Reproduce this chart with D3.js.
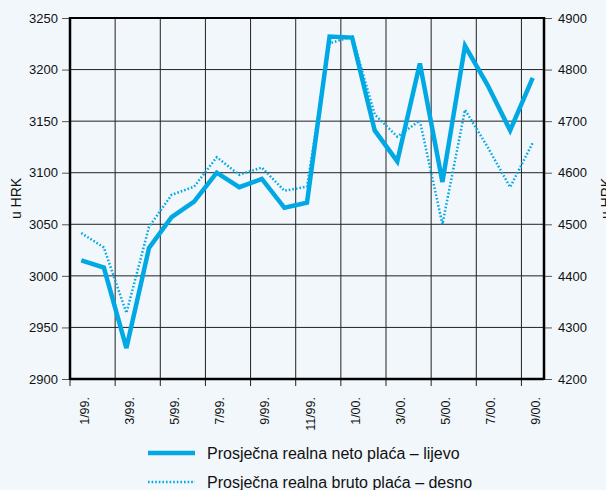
<!DOCTYPE html>
<html lang="hr">
<head>
<meta charset="UTF-8">
<title>Prosječna realna plaća</title>
<script src="https://d3js.org/d3.v7.min.js"></script>
<style>
  body { margin: 0; background: #f2f7fb; }
  svg { display: block; font-family: "Liberation Sans", Arial, sans-serif; }
</style>
</head>
<body>
<div id="chart"></div>
<script>
// months 1/99 .. 9/00
var months = ["1/99.", "2/99.", "3/99.", "4/99.", "5/99.", "6/99.", "7/99.", "8/99.", "9/99.", "10/99.", "11/99.", "12/99.",
              "1/00.", "2/00.", "3/00.", "4/00.", "5/00.", "6/00.", "7/00.", "8/00.", "9/00."];
// neto (left axis)
var neto = [3015, 3008, 2930, 3027, 3057, 3072, 3100, 3086, 3094, 3066, 3071, 3232,
            3231, 3141, 3111, 3206, 3091, 3223, 3185, 3141, 3192];
// bruto (right axis)
var bruto = [4483, 4455, 4328, 4495, 4557, 4573, 4630, 4596, 4610, 4565, 4573, 4851,
             4864, 4713, 4670, 4701, 4500, 4722, 4650, 4572, 4658];
var leftTicks = [2900, 2950, 3000, 3050, 3100, 3150, 3200, 3250];
var rightTicks = [4200, 4300, 4400, 4500, 4600, 4700, 4800, 4900];
var legendLabels = ["Prosječna realna neto plaća – lijevo", "Prosječna realna bruto plaća – desno"];

var W = 606, H = 490;
var margin = {top: 18, right: 62, bottom: 111, left: 70},
    width = W - margin.left - margin.right,
    height = H - margin.top - margin.bottom;
var blue = "#00a8e4";

var svg = d3.select("#chart").append("svg")
    .attr("width", W).attr("height", H);
var g = svg.append("g")
    .attr("transform", "translate(" + margin.left + "," + margin.top + ")");

var x = d3.scaleBand().domain(months).range([0, width]).padding(0);
var yL = d3.scaleLinear().domain([2900, 3250]).range([height, 0]);
var yR = d3.scaleLinear().domain([4200, 4900]).range([height, 0]);

// gridlines
var vLines = months.filter(function(d, i) { return i % 2 == 0 && i > 0; });
g.selectAll(".vgrid").data(vLines).enter().append("line")
    .attr("x1", function(d) { return x(d); }).attr("x2", function(d) { return x(d); })
    .attr("y1", 0).attr("y2", height + 7)
    .attr("stroke", "#222").attr("stroke-width", 1);
g.append("line").attr("x1", 0).attr("x2", 0).attr("y1", height).attr("y2", height + 7)
    .attr("stroke", "#222");
g.selectAll(".hgrid").data(leftTicks).enter().append("line")
    .attr("x1", 0).attr("x2", width)
    .attr("y1", function(d) { return yL(d); }).attr("y2", function(d) { return yL(d); })
    .attr("stroke", "#222").attr("stroke-width", 1);

// axes
var axL = g.append("g").call(d3.axisLeft(yL).tickValues(leftTicks).tickFormat(d3.format("d")).tickSize(8).tickPadding(4));
var axR = g.append("g").attr("transform", "translate(" + width + ",0)")
    .call(d3.axisRight(yR).tickValues(rightTicks).tickFormat(d3.format("d")).tickSize(8).tickPadding(6));
[axL, axR].forEach(function(a) {
  a.select(".domain").remove();
  a.selectAll(".tick line").attr("stroke", "#555");
  a.selectAll("text").attr("font-size", 13).attr("fill", "#111")
    .attr("font-family", "Liberation Sans, Arial, sans-serif");
});

// x labels (odd months only)
g.selectAll(".xlab").data(months.filter(function(d, i) { return i % 2 == 0; })).enter()
  .append("text")
    .attr("transform", function(d) {
      return "translate(" + (x(d) + x.bandwidth() / 2 + 7.5) + "," + (height + 18) + ")rotate(-90)";
    })
    .attr("text-anchor", "end")
    .attr("font-size", 12.5).attr("fill", "#111")
    .text(function(d) { return d; });

// frame
g.append("line").attr("x1", 0).attr("x2", 0).attr("y1", -1).attr("y2", height + 1)
    .attr("stroke", "#000").attr("stroke-width", 2.5);
g.append("line").attr("x1", width).attr("x2", width).attr("y1", -1).attr("y2", height + 1)
    .attr("stroke", "#000").attr("stroke-width", 2.5);
g.append("line").attr("x1", 0).attr("x2", width).attr("y1", height).attr("y2", height)
    .attr("stroke", "#000").attr("stroke-width", 2.5);
g.append("line").attr("x1", 0).attr("x2", width).attr("y1", 0).attr("y2", 0)
    .attr("stroke", "#000").attr("stroke-width", 2);

// lines
var cx = function(d, i) { return x(months[i]) + x.bandwidth() / 2; };
g.append("path").datum(bruto)
    .attr("fill", "none").attr("stroke", blue).attr("stroke-width", 2.5)
    .attr("stroke-dasharray", "1.6,2")
    .attr("d", d3.line().x(cx).y(function(d) { return yR(d); }));
g.append("path").datum(neto)
    .attr("fill", "none").attr("stroke", blue).attr("stroke-width", 4.5)
    .attr("stroke-linejoin", "miter")
    .attr("d", d3.line().x(cx).y(function(d) { return yL(d); }));

// axis titles
svg.append("text").attr("transform", "translate(21," + (margin.top + height / 2) + ")rotate(-90)")
    .attr("text-anchor", "middle").attr("font-size", 14).attr("fill", "#111").text("u HRK");
svg.append("text").attr("transform", "translate(611," + (margin.top + height / 2) + ")rotate(-90)")
    .attr("text-anchor", "middle").attr("font-size", 14).attr("fill", "#111").text("u HRK");

// legend
var lg = svg.append("g").attr("transform", "translate(148,453)");
lg.append("line").attr("x1", 0).attr("x2", 47).attr("y1", 0).attr("y2", 0)
    .attr("stroke", blue).attr("stroke-width", 4.5);
lg.append("text").attr("x", 59).attr("y", 5.5).attr("font-size", 16).attr("fill", "#111").text(legendLabels[0]);
lg.append("line").attr("x1", 0).attr("x2", 47).attr("y1", 29).attr("y2", 29)
    .attr("stroke", blue).attr("stroke-width", 2.5).attr("stroke-dasharray", "1.6,2");
lg.append("text").attr("x", 59).attr("y", 34.5).attr("font-size", 16).attr("fill", "#111").text(legendLabels[1]);
</script>
</body>
</html>
